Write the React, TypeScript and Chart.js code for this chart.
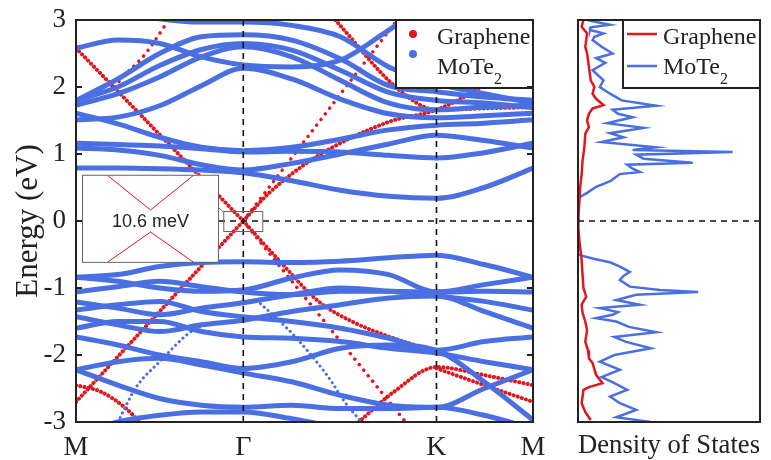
import React, { useEffect, useRef } from 'react';
import { Chart, registerables } from 'chart.js';
Chart.register(...registerables);

// ---------- band structure path ----------
const kPath = [0, 0.25, 0.5, 0.75, 1, 1.29, 1.58, 1.87, 2.155, 2.44, 2.732];
const highSymK = [0, 1, 2.155, 2.732];
const highSymLabels = ['M', 'Γ', 'K', 'M'];
const energyTicks = [-3, -2, -1, 0, 1, 2, 3];

// MoTe2 conduction bands (energy at each kPath point, eV)
const moteC1 = [0.79, 0.79, 0.78, 0.76, 0.72, 0.6, 0.46, 0.37, 0.34, 0.5, 0.79];
const moteC2 = [1.09, 1.06, 0.98, 0.84, 0.76, 0.86, 1.0, 1.15, 1.28, 1.2, 1.09];
const moteC3 = [1.16, 1.14, 1.12, 1.08, 1.03, 1.04, 1.03, 0.98, 0.94, 1.02, 1.16];
const moteC4 = [1.61, 1.45, 1.25, 1.1, 1.05, 1.1, 1.22, 1.36, 1.43, 1.46, 1.51];
const moteC5 = [2.58, 2.7, 2.65, 2.45, 2.33, 2.3, 2.4, 2.85, 3.3, 3.4, 3.3];
const moteC6 = [1.51, 1.55, 1.72, 2.02, 2.28, 2.12, 1.82, 1.6, 1.54, 1.57, 1.61];
const moteC7 = [1.73, 1.9, 2.15, 2.45, 2.6, 2.45, 2.1, 1.76, 1.66, 1.7, 1.73];
const moteC8 = [1.8, 2.0, 2.32, 2.56, 2.65, 2.55, 2.25, 1.92, 1.8, 1.76, 1.69];
const moteC9 = [1.8, 2.12, 2.5, 2.75, 2.78, 2.7, 2.42, 2.02, 1.93, 1.85, 1.8];
const moteC10 = [3.3, 3.15, 3.02, 2.97, 2.97, 2.92, 2.75, 2.3, 2.05, 1.9, 1.76];

// MoTe2 valence bands
const moteV1 = [-0.84, -0.8, -0.68, -0.62, -0.61, -0.62, -0.6, -0.55, -0.51, -0.65, -0.84];
const moteV2 = [-0.84, -0.9, -1.0, -1.05, -1.03, -0.85, -0.73, -0.8, -1.06, -1.05, -1.06];
const moteV3 = [-1.06, -0.98, -0.9, -0.98, -1.06, -1.1, -1.05, -1.05, -1.06, -0.95, -0.84];
const moteV4 = [-1.21, -1.3, -1.4, -1.3, -1.22, -1.1, -1.0, -1.05, -1.12, -1.2, -1.33];
const moteV5 = [-1.33, -1.25, -1.2, -1.35, -1.43, -1.5, -1.6, -1.75, -1.93, -1.8, -1.73];
const moteV6 = [-1.43, -1.55, -1.65, -1.55, -1.48, -1.35, -1.25, -1.15, -1.12, -1.35, -1.6];
const moteV7 = [-1.6, -1.5, -1.5, -1.65, -1.73, -1.75, -1.8, -1.9, -1.97, -2.1, -2.22];
const moteV8 = [-1.73, -1.85, -2.0, -2.1, -2.2, -2.1, -1.9, -1.85, -1.93, -2.4, -2.97];
const moteV9 = [-2.22, -2.1, -2.05, -2.15, -2.27, -2.4, -2.6, -2.75, -2.78, -2.5, -2.22];
const moteV10 = [-2.22, -2.45, -2.65, -2.75, -2.78, -2.75, -2.8, -2.8, -2.78, -2.9, -3.1];
const moteV11 = [-3.2, -3.0, -2.9, -2.85, -2.85, -2.95, -3.1, -3.3, -3.4, -3.3, -3.2];

// weak MoTe2 branches (k, E)
const moteWeak1K = [0.25, 0.36, 0.5, 0.7, 0.85];
const moteWeak1E = [-3.0, -2.48, -2.1, -1.63, -1.5];
const moteWeak2K = [1.08, 1.3, 1.5, 1.63, 1.75];
const moteWeak2E = [-1.18, -1.7, -2.3, -2.78, -3.1];

// Graphene bands (k, E)
const grapheneMGUpK = [0, 1];
const grapheneMGUpE = [2.58, 0];
const grapheneMGDownK = [0, 1];
const grapheneMGDownE = [-2.7, 0];
const grapheneGKSteepUpK = [1, 1.92];
const grapheneGKSteepUpE = [0, 3.0];
const grapheneGKUpK = [1, 1.155, 1.435, 1.87, 2.155, 2.42, 2.732];
const grapheneGKUpE = [0, 0.42, 0.955, 1.48, 1.66, 2.0, 2.58];
const grapheneTopK = [1.55, 1.93, 2.155, 2.44, 2.732];
const grapheneTopE = [3.0, 1.96, 1.66, 1.68, 1.7];
const grapheneSparseK = [0.23, 0.28, 0.4, 0.46, 0.54];
const grapheneSparseE = [2.0, 2.15, 2.45, 2.65, 2.95];
const grapheneGKSteepDownK = [1, 1.97];
const grapheneGKSteepDownE = [0, -3.0];
const grapheneGKDownK = [1, 1.2, 1.45, 1.65, 1.9, 2.155];
const grapheneGKDownE = [0, -0.55, -1.2, -1.5, -1.75, -1.95];
const grapheneHumpK = [1.69, 1.9, 2.155, 2.44, 2.732];
const grapheneHumpE = [-3.0, -2.55, -2.18, -2.3, -2.45];
const grapheneHump2K = [2.155, 2.44, 2.732];
const grapheneHump2E = [-2.2, -2.45, -2.7];
const grapheneLowK = [0, 0.15, 0.3, 0.4];
const grapheneLowE = [-2.45, -2.55, -2.8, -3.05];

// ---------- density of states ----------
const dosMoteE = [3.0, 2.96, 2.93, 2.89, 2.85, 2.8, 2.75, 2.7, 2.6, 2.5, 2.43, 2.36, 2.25, 2.1, 2.0, 1.9, 1.8, 1.72, 1.66, 1.6, 1.55, 1.46, 1.39, 1.31, 1.25, 1.18, 1.1, 1.06, 1.03, 0.99, 0.93, 0.87, 0.84, 0.78, 0.73, 0.7, 0.6, 0.51, 0.42, 0.34, -0.5, -0.51, -0.56, -0.62, -0.68, -0.76, -0.82, -0.88, -0.98, -1.03, -1.06, -1.1, -1.18, -1.25, -1.3, -1.36, -1.4, -1.45, -1.5, -1.58, -1.66, -1.73, -1.8, -1.9, -2.0, -2.1, -2.22, -2.33, -2.42, -2.52, -2.62, -2.72, -2.82, -2.93, -3.0];
const dosMote = [0.5, 1.2, 1.76, 0.7, 0.66, 1.4, 0.9, 0.8, 1.3, 1.9, 1.0, 1.5, 0.8, 1.4, 1.2, 1.76, 2.4, 4.3, 1.9, 2.2, 3.0, 1.6, 3.6, 1.76, 2.5, 1.3, 4.3, 3.0, 8.5, 3.2, 3.6, 6.3, 2.7, 3.0, 3.4, 2.3, 1.8, 1.0, 0.5, 0, 0, 0.1, 0.8, 1.8, 2.3, 2.85, 2.5, 2.3, 2.85, 4.5, 6.6, 3.2, 2.1, 3.4, 1.2, 2.2, 1.9, 1.0, 2.1, 2.8, 4.3, 2.0, 2.6, 4.0, 2.0, 1.2, 2.3, 1.3, 2.0, 2.7, 1.76, 2.3, 3.2, 2.1, 4.0];
const dosGrapheneE = [3.0, 2.9, 2.8, 2.6, 2.5, 2.3, 2.1, 2.0, 1.9, 1.82, 1.73, 1.68, 1.6, 1.5, 1.4, 1.3, 1.1, 0.9, 0.7, 0.5, 0.3, 0.1, 0, -0.1, -0.3, -0.58, -0.8, -1.0, -1.13, -1.25, -1.37, -1.5, -1.63, -1.8, -1.93, -2.05, -2.12, -2.3, -2.42, -2.48, -2.52, -2.72, -2.85, -2.97];
const dosGraphene = [0.3, 0.2, 0.5, 0.4, 0.5, 0.6, 0.7, 0.9, 0.8, 1.0, 1.4, 0.8, 0.6, 0.5, 0.6, 0.4, 0.35, 0.25, 0.2, 0.12, 0.08, 0.03, 0, 0.03, 0.08, 0.2, 0.25, 0.3, 0.45, 0.2, 0.25, 0.4, 0.5, 0.4, 0.55, 0.6, 0.8, 1.0, 1.35, 0.6, 0.3, 0.2, 0.4, 0.7];

const BLUE = '#4a6fe3';
const RED = '#e3161e';
const INK = '#222';
const SERIF = 'Liberation Serif';

const pts = (xs: number[], ys: number[]) => xs.map((x, i) => ({ x, y: ys[i] }));

function blueBand(vals: number[]) {
  return {
    data: pts(kPath, vals), borderColor: BLUE, borderWidth: 5, pointRadius: 0,
    cubicInterpolationMode: 'monotone' as const, fill: false,
  };
}
function weakBlue(ks: number[], es: number[]) {
  return {
    data: pts(ks, es), borderColor: BLUE, borderWidth: 3, pointRadius: 0,
    borderDash: [0.1, 5], borderCapStyle: 'round' as const, cubicInterpolationMode: 'monotone' as const, fill: false,
  };
}
function redBand(ks: number[], es: number[], sparse = false) {
  return {
    data: pts(ks, es), borderColor: RED, borderWidth: sparse ? 3.5 : 4, pointRadius: 0,
    borderDash: sparse ? [0.1, 7] : [0.1, 4.2], borderCapStyle: 'round' as const,
    cubicInterpolationMode: 'monotone' as const, fill: false,
  };
}

const bandPlugin = {
  id: 'bandDecor',
  afterDatasetsDraw(chart: any) {
    const { ctx, chartArea: a, scales } = chart;
    const xs = scales.x, ys = scales.y;
    const line = (x1: number, y1: number, x2: number, y2: number) => {
      ctx.beginPath(); ctx.moveTo(x1, y1); ctx.lineTo(x2, y2); ctx.stroke();
    };
    ctx.save();
    // dashed guide lines
    ctx.strokeStyle = '#111'; ctx.lineWidth = 1.6; ctx.setLineDash([6, 5]);
    const y0 = ys.getPixelForValue(0);
    line(a.left, y0, a.right, y0);
    [highSymK[1], highSymK[2]].forEach((k) => { const px = xs.getPixelForValue(k); line(px, a.top, px, a.bottom); });
    ctx.setLineDash([]);

    // inset showing the gap
    const gx = xs.getPixelForValue(highSymK[1]);
    const ix = a.left + 6, iy = ys.getPixelForValue(0.69), iw = 136, ih = ys.getPixelForValue(-0.61) - iy;
    ctx.fillStyle = '#fff'; ctx.fillRect(ix, iy, iw, ih);
    ctx.strokeStyle = '#666'; ctx.lineWidth = 1; ctx.strokeRect(ix + 0.5, iy + 0.5, iw, ih);
    const cx = ix + iw * 0.5 + 0.5;
    ctx.strokeStyle = RED; ctx.lineWidth = 1;
    ctx.beginPath(); ctx.moveTo(ix + 26, iy + 1); ctx.lineTo(cx, y0 - 11); ctx.lineTo(ix + iw - 25, iy + 1); ctx.stroke();
    ctx.beginPath(); ctx.moveTo(ix + 26, iy + ih); ctx.lineTo(cx, y0 + 11); ctx.lineTo(ix + iw - 25, iy + ih); ctx.stroke();
    ctx.fillStyle = INK; ctx.font = '18px "Liberation Sans"'; ctx.textAlign = 'center'; ctx.textBaseline = 'middle';
    ctx.fillText('10.6 meV', cx, y0 + 1);
    // zoom box at the Dirac point
    ctx.strokeStyle = '#666'; ctx.lineWidth = 1;
    ctx.strokeRect(gx - 20 + 0.5, y0 - 10 + 0.5, 39, 20);
    line(ix + iw, y0 - 14, gx - 20, y0 - 9);

    // legend
    const lw = 137, lh = 68, lx = a.right - lw, ly = a.top;
    ctx.fillStyle = '#fff'; ctx.fillRect(lx, ly, lw, lh);
    ctx.fillStyle = RED; ctx.beginPath(); ctx.arc(lx + 17, ly + 14, 4, 0, Math.PI * 2); ctx.fill();
    ctx.fillStyle = BLUE; ctx.beginPath(); ctx.arc(lx + 17, ly + 34, 4, 0, Math.PI * 2); ctx.fill();
    ctx.fillStyle = INK; ctx.textAlign = 'left'; ctx.textBaseline = 'alphabetic';
    ctx.font = `24px "${SERIF}"`;
    ctx.fillText('Graphene', lx + 41, ly + 24);
    ctx.fillText('MoTe', lx + 41, ly + 54);
    const mw = ctx.measureText('MoTe').width;
    ctx.font = `16px "${SERIF}"`;
    ctx.fillText('2', lx + 41 + mw, ly + 64);
    ctx.strokeStyle = INK; ctx.lineWidth = 2; ctx.strokeRect(lx, ly, lw, lh);

    // frame and inward ticks
    ctx.strokeStyle = INK; ctx.lineWidth = 2;
    ctx.strokeRect(a.left, a.top, a.right - a.left, a.bottom - a.top);
    energyTicks.forEach((e) => {
      const py = ys.getPixelForValue(e);
      line(a.left, py, a.left + 6, py);
      line(a.right - 6, py, a.right, py);
    });
    ctx.restore();
  },
};

const dosPlugin = {
  id: 'dosDecor',
  afterDatasetsDraw(chart: any) {
    const { ctx, chartArea: a, scales } = chart;
    const ys = scales.y;
    ctx.save();
    const y0 = ys.getPixelForValue(0);
    ctx.strokeStyle = '#111'; ctx.lineWidth = 1.6; ctx.setLineDash([6, 5]);
    ctx.beginPath(); ctx.moveTo(a.left, y0); ctx.lineTo(a.right, y0); ctx.stroke();
    ctx.setLineDash([]);
    // legend
    const lw = 137, lh = 68, lx = a.right - lw, ly = a.top;
    ctx.fillStyle = '#fff'; ctx.fillRect(lx, ly, lw, lh);
    ctx.lineWidth = 2.5;
    ctx.strokeStyle = RED; ctx.beginPath(); ctx.moveTo(lx + 4, ly + 14); ctx.lineTo(lx + 34, ly + 14); ctx.stroke();
    ctx.strokeStyle = BLUE; ctx.beginPath(); ctx.moveTo(lx + 4, ly + 46); ctx.lineTo(lx + 34, ly + 46); ctx.stroke();
    ctx.fillStyle = INK; ctx.textAlign = 'left'; ctx.textBaseline = 'alphabetic';
    ctx.font = `24px "${SERIF}"`;
    ctx.fillText('Graphene', lx + 40, ly + 24);
    ctx.fillText('MoTe', lx + 40, ly + 54);
    const mw = ctx.measureText('MoTe').width;
    ctx.font = `16px "${SERIF}"`;
    ctx.fillText('2', lx + 40 + mw, ly + 64);
    ctx.strokeStyle = INK; ctx.lineWidth = 2; ctx.strokeRect(lx, ly, lw, lh);
    ctx.strokeRect(a.left, a.top, a.right - a.left, a.bottom - a.top);
    ctx.restore();
  },
};

export default function App() {
  const bandRef = useRef<HTMLCanvasElement>(null);
  const dosRef = useRef<HTMLCanvasElement>(null);

  useEffect(() => {
    Chart.defaults.font.family = SERIF;
    const bandDatasets: any[] = [
      ...[moteC1, moteC2, moteC3, moteC4, moteC5, moteC6, moteC7, moteC8, moteC9, moteC10,
        moteV1, moteV2, moteV3, moteV4, moteV5, moteV6, moteV7, moteV8, moteV9, moteV10, moteV11].map(blueBand),
      weakBlue(moteWeak1K, moteWeak1E),
      weakBlue(moteWeak2K, moteWeak2E),
      redBand(grapheneMGUpK, grapheneMGUpE),
      redBand(grapheneMGDownK, grapheneMGDownE),
      redBand(grapheneGKSteepUpK, grapheneGKSteepUpE, true),
      redBand(grapheneGKUpK, grapheneGKUpE),
      redBand(grapheneTopK, grapheneTopE),
      redBand(grapheneSparseK, grapheneSparseE, true),
      redBand(grapheneGKSteepDownK, grapheneGKSteepDownE, true),
      redBand(grapheneGKDownK, grapheneGKDownE),
      redBand(grapheneHumpK, grapheneHumpE),
      redBand(grapheneHump2K, grapheneHump2E),
      redBand(grapheneLowK, grapheneLowE),
    ];
    const band = new Chart(bandRef.current!, {
      type: 'line',
      data: { datasets: bandDatasets },
      options: {
        animation: false, responsive: false, devicePixelRatio: 1,
        layout: { padding: { top: 20, right: 12, left: 0, bottom: 0 } },
        plugins: { legend: { display: false }, tooltip: { enabled: false } },
        elements: { line: { tension: 0 } },
        scales: {
          x: {
            type: 'linear', min: 0, max: highSymK[3],
            grid: { display: false, drawTicks: false }, border: { display: false },
            afterBuildTicks: (s: any) => { s.ticks = highSymK.map((v) => ({ value: v })); },
            ticks: {
              autoSkip: false, maxRotation: 0, padding: 9, color: INK,
              font: { size: 28, family: SERIF },
              callback: (_v: any, i: number) => highSymLabels[i],
            },
            afterFit: (s: any) => { s.height = 42; s.paddingLeft = 0; s.paddingRight = 0; },
          },
          y: {
            type: 'linear', min: -3, max: 3,
            grid: { display: false, drawTicks: false }, border: { display: false },
            afterBuildTicks: (s: any) => { s.ticks = energyTicks.map((v) => ({ value: v })); },
            ticks: { padding: 10, color: INK, font: { size: 27, family: SERIF } },
            title: { display: true, text: 'Energy (eV)', color: INK, font: { size: 31, family: SERIF }, padding: { top: 10, bottom: 0 } },
            afterFit: (s: any) => { s.width = 76; s.paddingTop = 0; s.paddingBottom = 0; },
          },
        },
      } as any,
      plugins: [bandPlugin],
    });

    const dos = new Chart(dosRef.current!, {
      type: 'line',
      data: {
        datasets: [
          { data: pts(dosGraphene, dosGrapheneE), borderColor: RED, borderWidth: 2.5, pointRadius: 0, fill: false },
          { data: pts(dosMote, dosMoteE), borderColor: BLUE, borderWidth: 2.5, pointRadius: 0, fill: false },
        ],
      },
      options: {
        animation: false, responsive: false, devicePixelRatio: 1,
        layout: { padding: { top: 20, right: 11, left: 18, bottom: 0 } },
        plugins: { legend: { display: false }, tooltip: { enabled: false } },
        elements: { line: { tension: 0 } },
        scales: {
          x: {
            type: 'linear', min: 0, max: 10,
            grid: { display: false, drawTicks: false }, border: { display: false },
            ticks: { display: false },
            title: { display: true, text: 'Density of States', color: INK, font: { size: 27, family: SERIF }, padding: { top: 0, bottom: 2 } },
            afterFit: (s: any) => { s.height = 42; s.paddingLeft = 0; s.paddingRight = 0; },
          },
          y: { type: 'linear', min: -3, max: 3, display: false },
        },
      } as any,
      plugins: [dosPlugin],
    });

    return () => { band.destroy(); dos.destroy(); };
  }, []);

  return (
    <div style={{ position: 'fixed', left: 0, top: 0, width: 771, height: 460, overflow: 'hidden', background: '#fff' }}>
      <canvas ref={bandRef} width={545} height={464} style={{ position: 'absolute', left: 0, top: 0 }} />
      <canvas ref={dosRef} width={211} height={464} style={{ position: 'absolute', left: 560, top: 0 }} />
    </div>
  );
}
